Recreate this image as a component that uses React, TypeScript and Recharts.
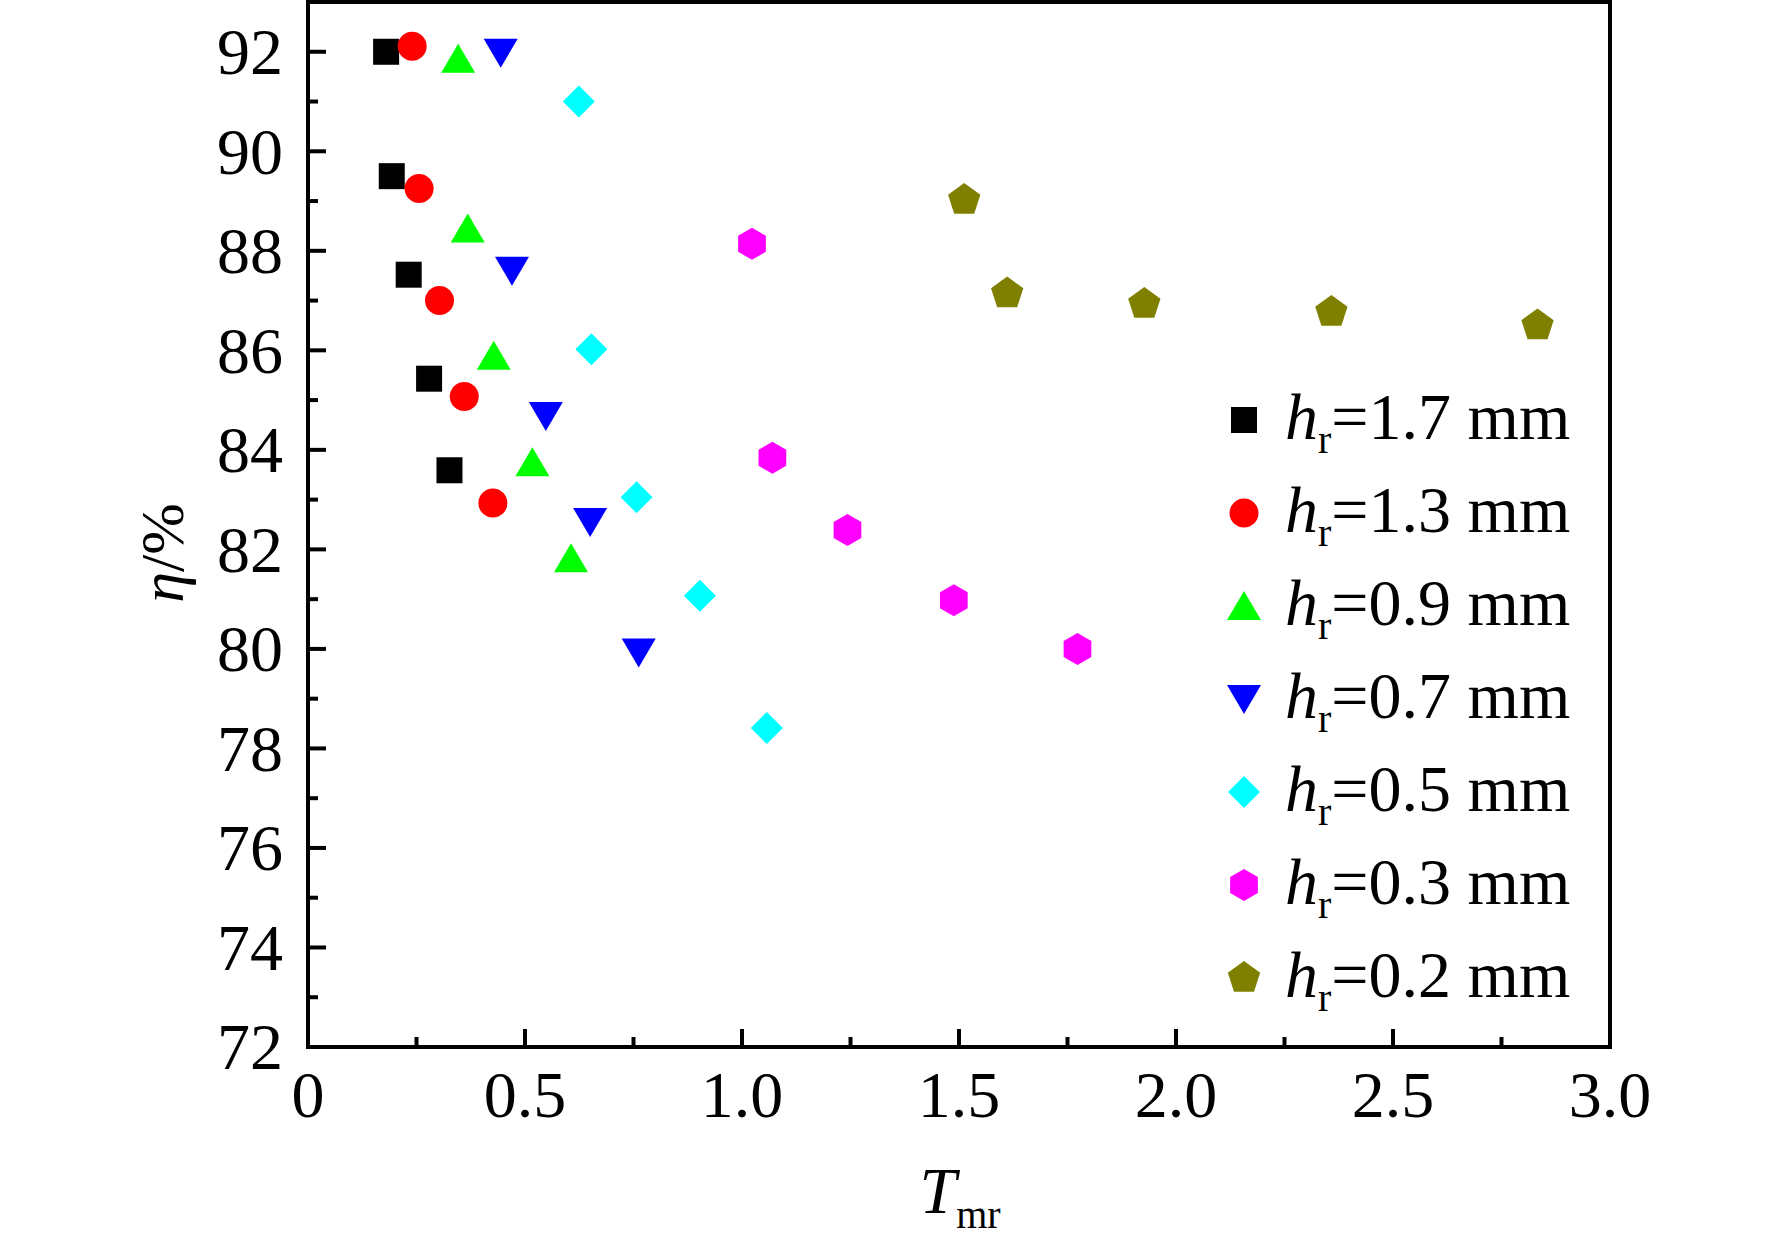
import { ReferenceArea, Scatter, ScatterChart, XAxis, YAxis } from "recharts";

const WIDTH = 1772;
const HEIGHT = 1248;
const SERIF = '"Liberation Serif", "Times New Roman", serif';

// Readings per rib height: T_mr on x, efficiency eta (%) on y.
const T_17 = [0.18, 0.193, 0.232, 0.279, 0.326];
const ETA_17 = [92.0, 89.5, 87.52, 85.43, 83.59];
const T_13 = [0.24, 0.256, 0.303, 0.36, 0.426];
const ETA_13 = [92.11, 89.25, 87.0, 85.07, 82.93];
const T_09 = [0.346, 0.368, 0.428, 0.517, 0.606];
const ETA_09 = [91.86, 88.45, 85.89, 83.75, 81.82];
const T_07 = [0.444, 0.47, 0.548, 0.65, 0.762];
const ETA_07 = [91.98, 87.6, 84.68, 82.55, 79.93];
const T_05 = [0.624, 0.653, 0.757, 0.903, 1.057];
const ETA_05 = [91.0, 86.02, 83.05, 81.07, 78.41];
const T_03 = [1.023, 1.07, 1.243, 1.488, 1.773];
const ETA_03 = [88.14, 83.84, 82.39, 80.98, 80.0];
const T_02 = [1.512, 1.611, 1.927, 2.358, 2.833];
const ETA_02 = [89.02, 87.14, 86.93, 86.77, 86.5];

const X_MAJOR = [0, 0.5, 1, 1.5, 2, 2.5, 3];
const X_MINOR = [0.25, 0.75, 1.25, 1.75, 2.25, 2.75];
const Y_MAJOR = [72, 74, 76, 78, 80, 82, 84, 86, 88, 90, 92];
const Y_MINOR = [73, 75, 77, 79, 81, 83, 85, 87, 89, 91];

type MarkerKind = "square" | "circle" | "up" | "down" | "diamond" | "hexagon" | "pentagon";

const SERIES: { label: string; xs: number[]; ys: number[]; color: string; marker: MarkerKind }[] = [
	{ label: "1.7", xs: T_17, ys: ETA_17, color: "#000000", marker: "square" },
	{ label: "1.3", xs: T_13, ys: ETA_13, color: "#ff0000", marker: "circle" },
	{ label: "0.9", xs: T_09, ys: ETA_09, color: "#00ff00", marker: "up" },
	{ label: "0.7", xs: T_07, ys: ETA_07, color: "#0000ff", marker: "down" },
	{ label: "0.5", xs: T_05, ys: ETA_05, color: "#00ffff", marker: "diamond" },
	{ label: "0.3", xs: T_03, ys: ETA_03, color: "#ff00ff", marker: "hexagon" },
	{ label: "0.2", xs: T_02, ys: ETA_02, color: "#808000", marker: "pentagon" },
];

function polygon(cx: number, cy: number, r: number, n: number) {
	const pts: string[] = [];
	for (let i = 0; i < n; i++) {
		const a = -Math.PI / 2 + (i * 2 * Math.PI) / n;
		pts.push(`${cx + r * Math.cos(a)},${cy + r * Math.sin(a)}`);
	}
	return pts.join(" ");
}

function Marker({ kind, cx, cy, fill }: { kind: MarkerKind; cx: number; cy: number; fill: string }) {
	switch (kind) {
		case "square":
			return <rect x={cx - 13} y={cy - 13} width={26} height={26} fill={fill} />;
		case "circle":
			return <circle cx={cx} cy={cy} r={14.5} fill={fill} />;
		case "up":
			return <polygon points={`${cx},${cy - 15} ${cx + 17},${cy + 14} ${cx - 17},${cy + 14}`} fill={fill} />;
		case "down":
			return <polygon points={`${cx - 17},${cy - 14} ${cx + 17},${cy - 14} ${cx},${cy + 15}`} fill={fill} />;
		case "diamond":
			return <polygon points={`${cx},${cy - 16} ${cx + 16},${cy} ${cx},${cy + 16} ${cx - 16},${cy}`} fill={fill} />;
		case "hexagon":
			return <polygon points={polygon(cx, cy, 16, 6)} fill={fill} />;
		default:
			return <polygon points={polygon(cx, cy, 17, 5)} fill={fill} />;
	}
}

const isMajorX = (v: number) => X_MAJOR.includes(v);
const isMajorY = (v: number) => Y_MAJOR.includes(v);

function XTick({ x, y, payload }: any) {
	const major = isMajorX(payload.value);
	return (
		<g>
			<line x1={x} x2={x} y1={y} y2={y - (major ? 18 : 10)} stroke="#000" strokeWidth={4} />
			{major && (
				<text x={x} y={y + 23} dy="0.71em" textAnchor="middle" fontFamily={SERIF} fontSize={66} fill="#000">
					{payload.value === 0 ? "0" : payload.value.toFixed(1)}
				</text>
			)}
		</g>
	);
}

function YTick({ x, y, payload }: any) {
	const major = isMajorY(payload.value);
	return (
		<g>
			<line x1={x} x2={x + (major ? 18 : 10)} y1={y} y2={y} stroke="#000" strokeWidth={4} />
			{major && (
				<text x={x - 25} y={y} dy="0.34em" textAnchor="end" fontFamily={SERIF} fontSize={66} fill="#000">
					{payload.value}
				</text>
			)}
		</g>
	);
}

function YTitle() {
	return (
		<text x={162} y={553} transform="rotate(-90 162 553)" textAnchor="middle" dy="0.34em" fontFamily={SERIF} fontSize={62} fill="#000">
			<tspan fontStyle="italic">η</tspan>/%
		</text>
	);
}

function XTitle() {
	return (
		<text x={960} y={1213} textAnchor="middle" fontFamily={SERIF} fill="#000">
			<tspan fontStyle="italic" fontSize={66}>T</tspan>
			<tspan fontSize={40} dy={15}>mr</tspan>
		</text>
	);
}

function LegendBox() {
	return (
		<div style={{ position: "absolute", left: 1224, top: 373, fontFamily: SERIF, color: "#000" }}>
			{SERIES.map((s) => (
				<div key={s.label} style={{ display: "flex", alignItems: "center", height: 93 }}>
					<svg width={40} height={40} style={{ flexShrink: 0 }}>
						<Marker kind={s.marker} cx={20} cy={20} fill={s.color} />
					</svg>
					<span style={{ position: "relative", top: 8, marginLeft: 21, fontSize: 66, lineHeight: "93px", whiteSpace: "nowrap" }}>
						<span style={{ fontStyle: "italic" }}>h</span>
						<span style={{ fontSize: 40, verticalAlign: -14 }}>r</span>={s.label} mm
					</span>
				</div>
			))}
		</div>
	);
}

export default function App() {
	return (
		<div style={{ position: "absolute", left: 0, top: 0, width: WIDTH, height: HEIGHT, background: "#fff" }}>
			<ScatterChart width={WIDTH} height={HEIGHT} margin={{ top: 2, right: 162, bottom: 200, left: 307 }}>
				<XAxis
					type="number"
					dataKey="x"
					domain={[0, 3]}
					ticks={[...X_MAJOR, ...X_MINOR].sort((a, b) => a - b)}
					interval={0}
					height={1}
					tickSize={0}
					tickMargin={0}
					tickLine={false}
					axisLine={false}
					tick={<XTick />}
					label={<XTitle />}
				/>
				<YAxis
					type="number"
					dataKey="y"
					domain={[72, 93]}
					ticks={[...Y_MAJOR, ...Y_MINOR].sort((a, b) => a - b)}
					interval={0}
					width={1}
					tickSize={0}
					tickMargin={0}
					tickLine={false}
					axisLine={false}
					tick={<YTick />}
					label={<YTitle />}
				/>
				{SERIES.map((s) => (
					<Scatter
						key={s.label}
						name={s.label}
						data={s.xs.map((x, i) => ({ x, y: s.ys[i] }))}
						fill={s.color}
						isAnimationActive={false}
						shape={(p: any) => <Marker kind={s.marker} cx={p.cx} cy={p.cy} fill={s.color} />}
					/>
				))}
				<ReferenceArea x1={0} x2={3} y1={72} y2={93} fill="none" stroke="#000" strokeWidth={4} ifOverflow="visible" />
			</ScatterChart>
			<LegendBox />
		</div>
	);
}
